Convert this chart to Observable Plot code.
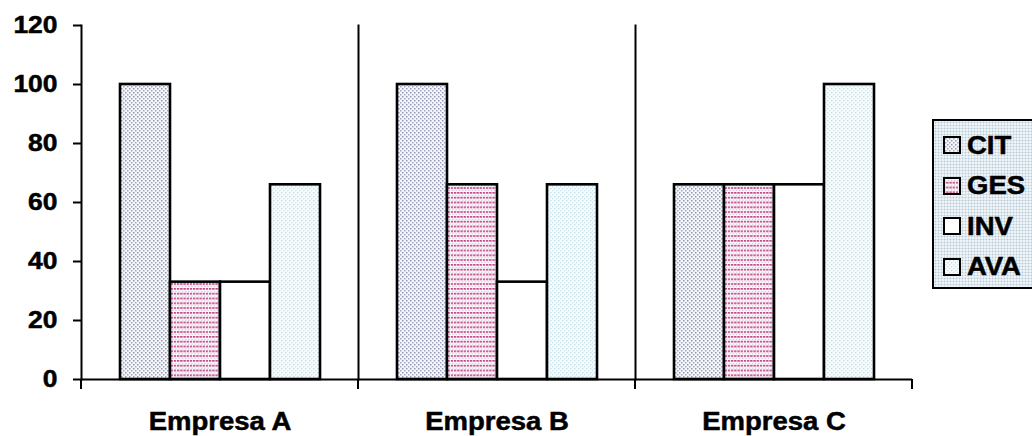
<!DOCTYPE html>
<html>
<head>
<meta charset="utf-8">
<script src="https://cdn.jsdelivr.net/npm/d3@7"></script>
<script src="https://cdn.jsdelivr.net/npm/@observablehq/plot@0.6"></script>
<style>
  body { margin: 0; background: #fff; }
  #wrap { position: relative; width: 1032px; height: 436px; overflow: hidden;
          font-family: "Liberation Sans", Arial, sans-serif; font-weight: bold; }
  #chart svg text { font-family: "Liberation Sans", Arial, sans-serif !important; font-weight: bold;
                    fill: #000; stroke: #000; stroke-width: 0.5px; }
  #chart svg g[aria-label="y-axis tick label"] text { font-size: 24px !important; }
  #chart svg g[aria-label="fx-axis tick label"] text { font-size: 25px !important; }
  #legend { position: absolute; left: 932px; top: 119px; width: 130px; height: 170px;
            box-sizing: border-box; border: 2px solid #000;
            background-color: #edf3f7;
            background-image: radial-gradient(circle, #b7c9d6 0.75px, transparent 1.15px);
            background-size: 3px 3px; }
  .item { position: absolute; left: 9px; height: 26px; display: flex; align-items: center; }
  .item svg { display: block; }
  .lab { font-size: 25px; color: #000; margin-left: 6px; display: inline-block;
         -webkit-text-stroke: 0.5px #000;
         transform: scaleX(1.1); transform-origin: left center; }
</style>
</head>
<body>
<!-- fill patterns shared by the bars and the legend swatches -->
<svg width="0" height="0" style="position:absolute">
  <defs>
    <pattern id="pat-CIT" patternUnits="userSpaceOnUse" width="4" height="4">
      <rect width="4" height="4" fill="#f5f6fa"/>
      <rect x="0" y="0" width="1.5" height="1.5" fill="#9297b2"/>
      <rect x="2" y="2" width="1.5" height="1.5" fill="#a2a7bf"/>
    </pattern>
    <pattern id="pat-GES" patternUnits="userSpaceOnUse" width="3.2" height="4.8">
      <rect width="3.2" height="4.8" fill="#fbf7fa"/>
      <rect x="0" y="0" width="2.3" height="1.7" fill="#c24a8c"/>
      <rect x="1.6" y="2.8" width="1.1" height="1.1" fill="#c3bfd0"/>
    </pattern>
    <pattern id="pat-INV" patternUnits="userSpaceOnUse" width="4" height="4">
      <rect width="4" height="4" fill="#ffffff"/>
    </pattern>
    <pattern id="pat-AVA" patternUnits="userSpaceOnUse" width="4" height="4">
      <rect width="4" height="4" fill="#f6fbfd"/>
      <rect x="0" y="0" width="1.3" height="1.3" fill="#c3dde6"/>
      <rect x="2" y="2" width="1.3" height="1.3" fill="#cfe5ec"/>
    </pattern>
  </defs>
</svg>

<div id="wrap">
  <div id="chart"></div>
  <div id="legend"></div>
</div>

<script>
// Companies on the horizontal axis and the four indicators drawn for each
const companies = ["Empresa A", "Empresa B", "Empresa C"];
const series = ["CIT", "GES", "INV", "AVA"];

// Indicator values per company (order follows `companies`)
const citValues = [100, 100, 66];
const gesValues = [33, 66, 66];
const invValues = [33, 33, 66];
const avaValues = [66, 66, 100];

const yTicks = [0, 20, 40, 60, 80, 100, 120];

const valuesBySeries = { CIT: citValues, GES: gesValues, INV: invValues, AVA: avaValues };
const rows = series.flatMap(s =>
  companies.map((c, i) => ({ company: c, series: s, value: valuesBySeries[s][i] }))
);

const chart = Plot.plot({
  width: 1032,
  height: 436,
  marginLeft: 80,
  marginRight: 119,
  marginTop: 25,
  marginBottom: 57,
  style: { fontFamily: "'Liberation Sans', Arial, sans-serif", fontWeight: "bold", color: "#000", background: "transparent" },
  fx: { domain: companies, padding: 0 },
  x: { domain: series, paddingInner: 0, paddingOuter: 0.77, axis: null },
  y: { domain: [0, 120] },
  marks: [
    // one bar mark per indicator so each gets its own pattern fill
    ...series.map(s =>
      Plot.barY(rows.filter(d => d.series === s), {
        fx: "company",
        x: "series",
        y: "value",
        fill: `url(#pat-${s})`,
        stroke: "#000",
        strokeWidth: 2.6
      })
    ),
    // group separators (the first one doubles as the y-axis line)
    Plot.frame({ anchor: "left", stroke: "#000", strokeWidth: 2 }),
    // baseline
    Plot.ruleY([0], { stroke: "#000", strokeWidth: 2 }),
    Plot.axisY({ ticks: yTicks, tickSize: 8, tickPadding: 16, fontSize: 24, label: null, strokeWidth: 2 }),
    Plot.axisFx({ anchor: "bottom", tickSize: 0, tickPadding: 33, fontSize: 25, label: null })
  ]
});

document.getElementById("chart").appendChild(chart);

// Tick marks below the baseline at the group boundaries
const fxScale = chart.scale("fx");
const yScale = chart.scale("y");
const y0 = yScale.apply(0);
const edges = companies.map(c => fxScale.apply(c))
  .concat(fxScale.apply(companies[companies.length - 1]) + fxScale.bandwidth);
d3.select(chart).append("g")
  .selectAll("line")
  .data(edges)
  .join("line")
  .attr("x1", d => d).attr("x2", d => d)
  .attr("y1", y0).attr("y2", y0 + 10)
  .attr("stroke", "#000")
  .attr("stroke-width", 2);

// Slightly wide lettering for the axis labels
for (const t of chart.querySelectorAll("text")) {
  const w = t.getComputedTextLength();
  if (w > 0) {
    t.setAttribute("textLength", (w * 1.1).toFixed(1));
    t.setAttribute("lengthAdjust", "spacingAndGlyphs");
  }
}

// Legend
const legend = d3.select("#legend");
series.forEach((s, i) => {
  const item = legend.append("div").attr("class", "item").style("top", `${11 + i * 40.5}px`);
  const sw = item.append("svg").attr("width", 18).attr("height", 18);
  sw.append("rect").attr("x", 1).attr("y", 1).attr("width", 16).attr("height", 16)
    .attr("fill", `url(#pat-${s})`).attr("stroke", "#000").attr("stroke-width", 2);
  item.append("span").attr("class", "lab").text(s);
});
</script>
</body>
</html>
